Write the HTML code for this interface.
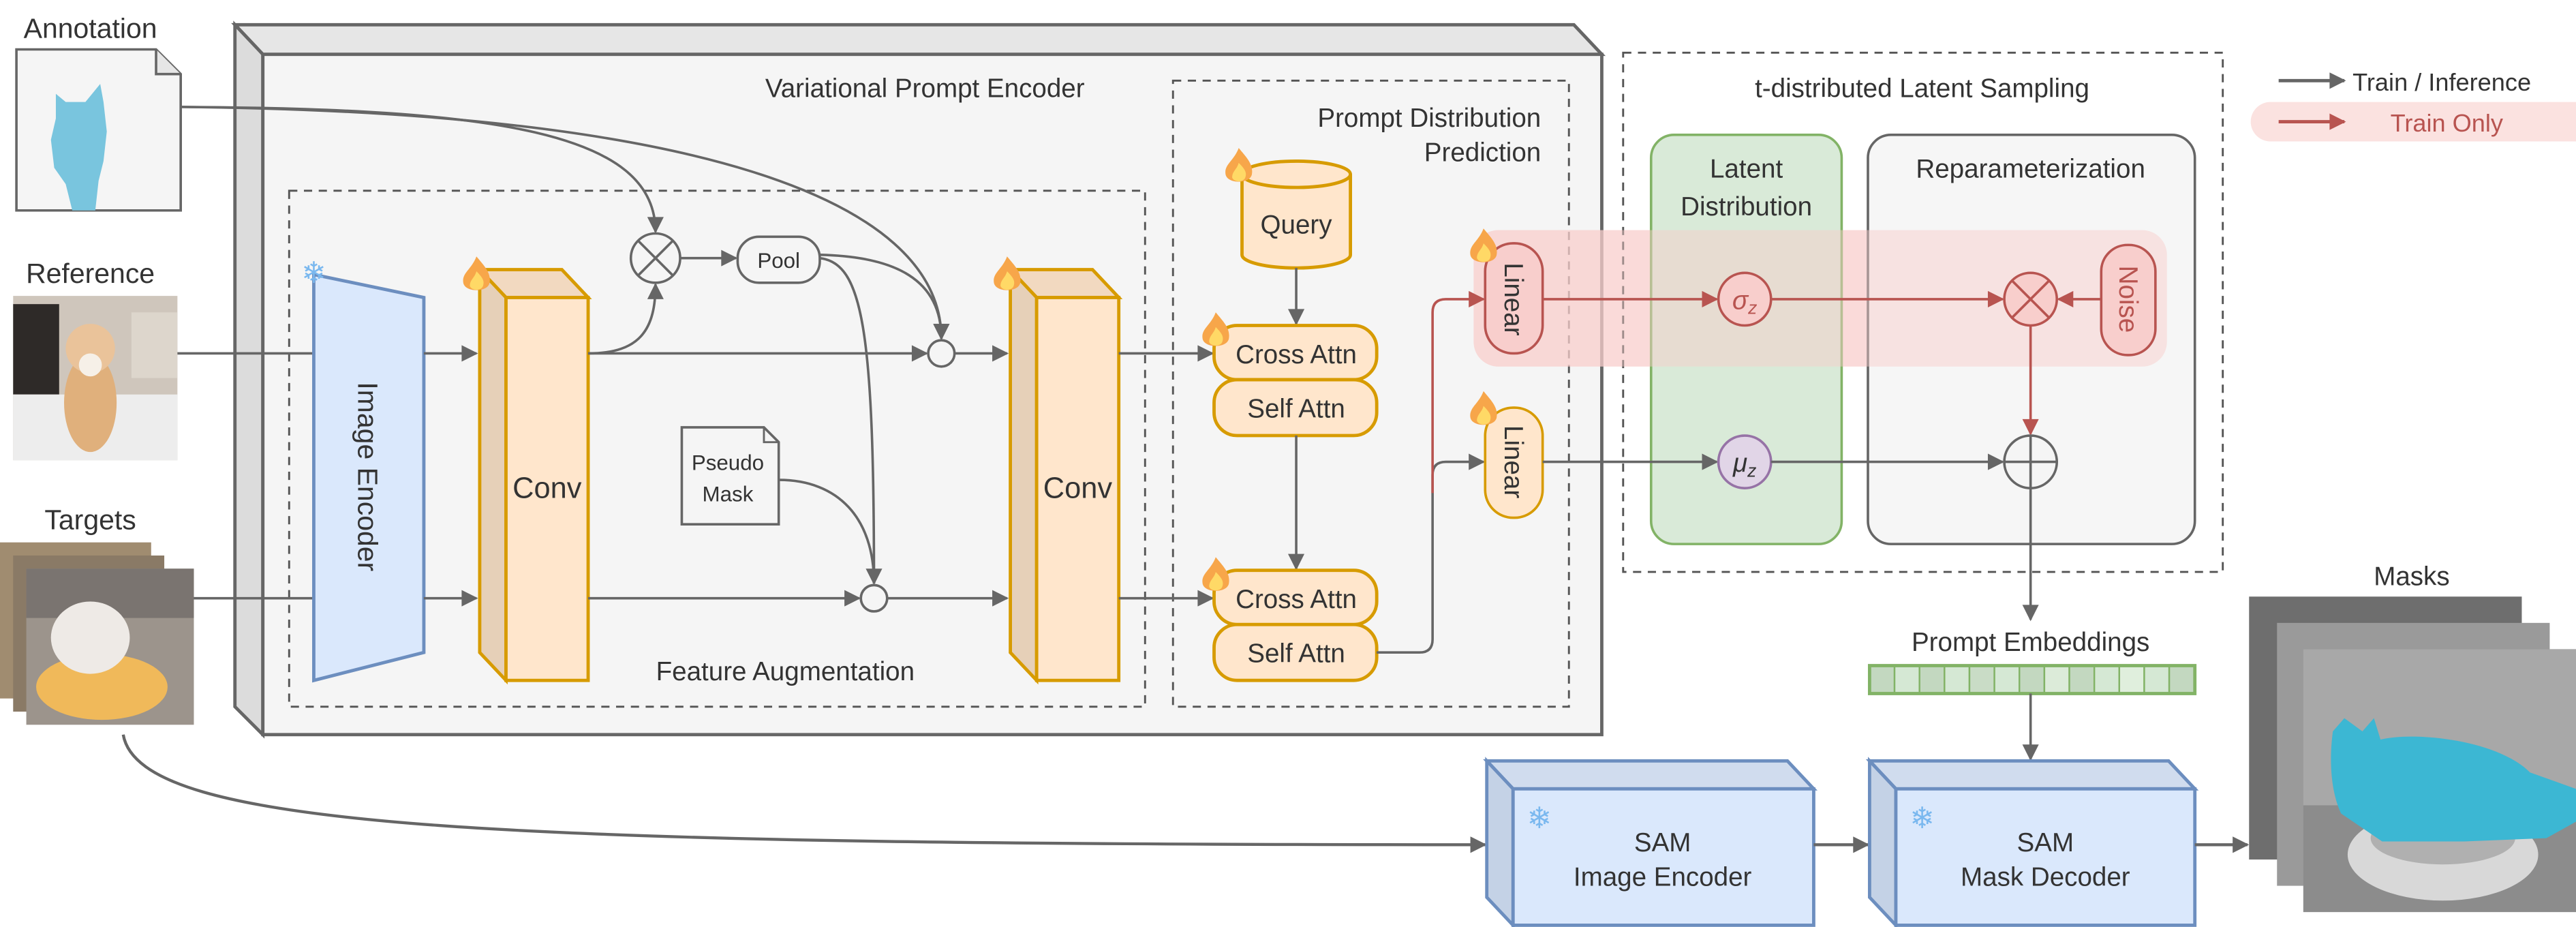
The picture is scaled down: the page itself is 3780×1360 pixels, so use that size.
<!DOCTYPE html>
<html><head><meta charset="utf-8"><style>
html,body{margin:0;padding:0;background:#fff;}
svg{display:block;}
text{font-family:"Liberation Sans",Arial,sans-serif;fill:#333;}
</style></head><body>
<svg width="3780" height="1360" viewBox="0 0 1568 564" xmlns="http://www.w3.org/2000/svg">
<defs>
<marker id="agb" viewBox="0 0 10 10" refX="9" refY="5" markerWidth="11" markerHeight="10" orient="auto" markerUnits="userSpaceOnUse"><path d="M0,0 L10,5 L0,10 Z" fill="#666"/></marker>
<marker id="ar" viewBox="0 0 10 10" refX="9" refY="5" markerWidth="11" markerHeight="10" orient="auto" markerUnits="userSpaceOnUse"><path d="M0,0 L10,5 L0,10 Z" fill="#b85450"/></marker>
<g id="flame"><path d="M0,-14 C5,-8 9,-4 8,2 C7,8 -7,8 -8,2 C-9,-4 -3,-6 0,-14 Z" fill="#f7a64a"/><path d="M0,-5 C4,-1 5,1 4,4 C3,7 -3,7 -4,4 C-4,0 -1,-1 0,-5 Z" fill="#ffd966"/></g>
</defs>

<text x="55" y="23" font-size="17" text-anchor="middle">Annotation</text>
<path d="M10,30 L95,30 L110,45 L110,128 L10,128 Z" fill="#f5f5f5" stroke="#666" stroke-width="1.5"/>
<path d="M95,30 L95,45 L110,45" fill="#e6e6e6" stroke="#666" stroke-width="1.5"/>
<path d="M34,57 L40,62 L52,62 L61,51 L63,62 L65,80 L63,98 L60,110 L58,128 L44,128 L40,112 L33,102 L31,85 L34,72 Z" fill="#79c5de"/>

<text x="55" y="172" font-size="17" text-anchor="middle">Reference</text>
<rect x="8" y="180" width="100" height="100" fill="#cfc6bc"/>
<rect x="8" y="185" width="28" height="55" fill="#2e2a28"/>
<rect x="80" y="190" width="28" height="40" fill="#ddd6cc"/>
<rect x="8" y="240" width="100" height="40" fill="#ededed"/>
<ellipse cx="55" cy="245" rx="16" ry="30" fill="#e0b07c"/>
<circle cx="55" cy="212" r="15" fill="#eac39a"/>
<circle cx="55" cy="222" r="7" fill="#f6f0e8"/>

<text x="55" y="322" font-size="17" text-anchor="middle">Targets</text>
<rect x="0" y="330" width="92" height="95" fill="#a08c70"/>
<rect x="8" y="338" width="92" height="95" fill="#8a7a66"/>
<rect x="16" y="346" width="102" height="95" fill="#9c948c"/>
<rect x="16" y="346" width="102" height="30" fill="#7a7470"/>
<ellipse cx="62" cy="418" rx="40" ry="20" fill="#f0b95a"/>
<ellipse cx="55" cy="388" rx="24" ry="22" fill="#eeeae6"/>

<path d="M143,15 L958,15 L975,33 L160,33 Z" fill="#e6e6e6" stroke="#666" stroke-width="2"/>
<path d="M143,15 L160,33 L160,447 L143,430 Z" fill="#dcdcdc" stroke="#666" stroke-width="2"/>
<rect x="160" y="33" width="815" height="414" fill="#f5f5f5" stroke="#666" stroke-width="2"/>
<text x="563" y="59" font-size="16" text-anchor="middle">Variational Prompt Encoder</text>

<rect x="176" y="116" width="521" height="314" fill="none" stroke="#555" stroke-width="1.2" stroke-dasharray="5,4"/>
<text x="478" y="414" font-size="16" text-anchor="middle">Feature Augmentation</text>
<rect x="714" y="49" width="241" height="381" fill="none" stroke="#555" stroke-width="1.2" stroke-dasharray="5,4"/>
<text x="938" y="77" font-size="16" text-anchor="end">Prompt Distribution</text>
<text x="938" y="98" font-size="16" text-anchor="end">Prediction</text>

<line x1="108" y1="215" x2="191" y2="215" stroke="#666" stroke-width="1.5"/>
<line x1="118" y1="364" x2="191" y2="364" stroke="#666" stroke-width="1.5"/>
<path d="M110,65 C300,66 399,80 399,141" fill="none" stroke="#666" stroke-width="1.5" marker-end="url(#agb)"/>
<path d="M110,65 C420,68 573,120 573,206" fill="none" stroke="#666" stroke-width="1.5" marker-end="url(#agb)"/>

<path d="M191,167 L258,181 L258,397 L191,414 Z" fill="#dae8fc" stroke="#6c8ebf" stroke-width="2"/>
<text x="0" y="0" font-size="17" text-anchor="middle" transform="translate(218,290) rotate(90)">Image Encoder</text>
<text x="191" y="172" font-size="18" text-anchor="middle" style="fill:#7ab8ef">❄</text>

<line x1="258" y1="215" x2="290" y2="215" stroke="#666" stroke-width="1.5" marker-end="url(#agb)"/>
<line x1="258" y1="364" x2="290" y2="364" stroke="#666" stroke-width="1.5" marker-end="url(#agb)"/>

<path d="M292,164 L342,164 L358,181 L308,181 Z" fill="#f2d9c0" stroke="#d79b00" stroke-width="2"/>
<path d="M292,164 L308,181 L308,414 L292,397 Z" fill="#e6d0b8" stroke="#d79b00" stroke-width="2"/>
<rect x="308" y="181" width="50" height="233" fill="#ffe6cc" stroke="#d79b00" stroke-width="2"/>
<text x="333" y="303" font-size="18" text-anchor="middle">Conv</text>
<use href="#flame" x="290" y="170"/>
<path d="M615,164 L665,164 L681,181 L631,181 Z" fill="#f2d9c0" stroke="#d79b00" stroke-width="2"/>
<path d="M615,164 L631,181 L631,414 L615,397 Z" fill="#e6d0b8" stroke="#d79b00" stroke-width="2"/>
<rect x="631" y="181" width="50" height="233" fill="#ffe6cc" stroke="#d79b00" stroke-width="2"/>
<text x="656" y="303" font-size="18" text-anchor="middle">Conv</text>
<use href="#flame" x="613" y="170"/>

<line x1="358" y1="215" x2="564" y2="215" stroke="#666" stroke-width="1.5" marker-end="url(#agb)"/>
<path d="M358,215 C390,215 399,200 399,173" fill="none" stroke="#666" stroke-width="1.5" marker-end="url(#agb)"/>
<circle cx="399" cy="157" r="15" fill="#f5f5f5" stroke="#666" stroke-width="1.5"/>
<path d="M388,146 L410,168 M410,146 L388,168" stroke="#666" stroke-width="1.5"/>
<line x1="414" y1="157" x2="448" y2="157" stroke="#666" stroke-width="1.5" marker-end="url(#agb)"/>
<rect x="449" y="144" width="50" height="28" rx="13" fill="#f5f5f5" stroke="#666" stroke-width="1.5"/>
<text x="474" y="163" font-size="13" text-anchor="middle">Pool</text>
<path d="M499,155 C545,156 573,170 573,206" fill="none" stroke="#666" stroke-width="1.5" marker-end="url(#agb)"/>
<path d="M499,157 C525,160 532,200 532,355" fill="none" stroke="#666" stroke-width="1.5" marker-end="url(#agb)"/>
<circle cx="573" cy="215" r="8" fill="#f5f5f5" stroke="#666" stroke-width="1.5"/>
<line x1="581" y1="215" x2="613" y2="215" stroke="#666" stroke-width="1.5" marker-end="url(#agb)"/>

<path d="M415,260 L465,260 L474,269 L474,319 L415,319 Z" fill="#f5f5f5" stroke="#666" stroke-width="1.5"/>
<path d="M465,260 L465,269 L474,269" fill="none" stroke="#666" stroke-width="1.2"/>
<text x="443" y="286" font-size="13" text-anchor="middle">Pseudo</text>
<text x="443" y="305" font-size="13" text-anchor="middle">Mask</text>
<path d="M474,292 C510,292 532,315 532,355" fill="none" stroke="#666" stroke-width="1.5"/>
<line x1="358" y1="364" x2="523" y2="364" stroke="#666" stroke-width="1.5" marker-end="url(#agb)"/>
<circle cx="532" cy="364" r="8" fill="#f5f5f5" stroke="#666" stroke-width="1.5"/>
<line x1="540" y1="364" x2="613" y2="364" stroke="#666" stroke-width="1.5" marker-end="url(#agb)"/>

<line x1="681" y1="215" x2="738" y2="215" stroke="#666" stroke-width="1.5" marker-end="url(#agb)"/>
<line x1="681" y1="364" x2="738" y2="364" stroke="#666" stroke-width="1.5" marker-end="url(#agb)"/>
<path d="M756,106 L756,155 A33,8 0 0 0 822,155 L822,106" fill="#ffe6cc" stroke="#d79b00" stroke-width="2"/>
<ellipse cx="789" cy="106" rx="33" ry="8" fill="#ffe6cc" stroke="#d79b00" stroke-width="2"/>
<text x="789" y="142" font-size="16" text-anchor="middle">Query</text>
<use href="#flame" x="754" y="104"/>
<line x1="789" y1="163" x2="789" y2="197" stroke="#666" stroke-width="1.5" marker-end="url(#agb)"/>
<rect x="739" y="198" width="99" height="33" rx="14" fill="#ffe6cc" stroke="#d79b00" stroke-width="2"/>
<text x="789" y="221" font-size="16" text-anchor="middle">Cross Attn</text>
<rect x="739" y="231" width="99" height="34" rx="14" fill="#ffe6cc" stroke="#d79b00" stroke-width="2"/>
<text x="789" y="254" font-size="16" text-anchor="middle">Self Attn</text>
<use href="#flame" x="740" y="204"/>
<line x1="789" y1="265" x2="789" y2="346" stroke="#666" stroke-width="1.5" marker-end="url(#agb)"/>
<rect x="739" y="347" width="99" height="33" rx="14" fill="#ffe6cc" stroke="#d79b00" stroke-width="2"/>
<text x="789" y="370" font-size="16" text-anchor="middle">Cross Attn</text>
<rect x="739" y="380" width="99" height="34" rx="14" fill="#ffe6cc" stroke="#d79b00" stroke-width="2"/>
<text x="789" y="403" font-size="16" text-anchor="middle">Self Attn</text>
<use href="#flame" x="740" y="353"/>

<rect x="897" y="140" width="422" height="83" rx="15" fill="#f8cecc" fill-opacity="0.55"/>

<rect x="988" y="32" width="365" height="316" fill="none" stroke="#555" stroke-width="1.2" stroke-dasharray="5,4"/>
<text x="1170" y="59" font-size="16" text-anchor="middle">t-distributed Latent Sampling</text>
<rect x="1005" y="82" width="116" height="249" rx="14" fill="#d5e8d4" fill-opacity="0.9" stroke="#82b366" stroke-width="1.5"/>
<text x="1063" y="108" font-size="16" text-anchor="middle">Latent</text>
<text x="1063" y="131" font-size="16" text-anchor="middle">Distribution</text>
<rect x="1137" y="82" width="199" height="249" rx="14" fill="#f5f5f5" fill-opacity="0.85" stroke="#666" stroke-width="1.5"/>
<text x="1236" y="108" font-size="16" text-anchor="middle">Reparameterization</text>
<rect x="897" y="140" width="422" height="83" rx="15" fill="#f8cecc" fill-opacity="0.45"/>

<path d="M838,397 L864,397 Q872,397 872,389 L872,289 Q872,281 880,281 L903,281" fill="none" stroke="#666" stroke-width="1.5" marker-end="url(#agb)"/>
<path d="M872,300 L872,190 Q872,182 880,182 L903,182" fill="none" stroke="#b85450" stroke-width="1.5" marker-end="url(#ar)"/>

<rect x="904" y="148" width="35" height="67" rx="17" fill="#f8cecc" stroke="#b85450" stroke-width="1.5"/>
<text x="0" y="0" font-size="16" text-anchor="middle" transform="translate(916,182) rotate(90)">Linear</text>
<use href="#flame" x="903" y="153"/>
<rect x="904" y="248" width="35" height="67" rx="17" fill="#ffe6cc" stroke="#d79b00" stroke-width="1.5"/>
<text x="0" y="0" font-size="16" text-anchor="middle" transform="translate(916,281) rotate(90)">Linear</text>
<use href="#flame" x="903" y="252"/>

<line x1="939" y1="182" x2="1045" y2="182" stroke="#b85450" stroke-width="1.5" marker-end="url(#ar)"/>
<circle cx="1062" cy="182" r="16" fill="#f8cecc" stroke="#b85450" stroke-width="1.5"/>
<text x="1062" y="188" font-size="16" text-anchor="middle" font-style="italic" font-family="Liberation Serif" style="fill:#b85450">σ<tspan font-size="11" dy="3">z</tspan></text>
<line x1="1078" y1="182" x2="1219" y2="182" stroke="#b85450" stroke-width="1.5" marker-end="url(#ar)"/>
<circle cx="1236" cy="182" r="16" fill="#f8cecc" stroke="#b85450" stroke-width="1.5"/>
<path d="M1225,171 L1247,193 M1247,171 L1225,193" stroke="#b85450" stroke-width="1.5"/>
<rect x="1279" y="149" width="33" height="67" rx="16" fill="#f8cecc" stroke="#b85450" stroke-width="1.5"/>
<text x="0" y="0" font-size="16" text-anchor="middle" style="fill:#b85450" transform="translate(1290,182) rotate(90)">Noise</text>
<line x1="1279" y1="182" x2="1253" y2="182" stroke="#b85450" stroke-width="1.5" marker-end="url(#ar)"/>
<line x1="1236" y1="198" x2="1236" y2="264" stroke="#b85450" stroke-width="1.5" marker-end="url(#ar)"/>

<line x1="939" y1="281" x2="1045" y2="281" stroke="#666" stroke-width="1.5" marker-end="url(#agb)"/>
<circle cx="1062" cy="281" r="16" fill="#e1d5e7" stroke="#9673a6" stroke-width="1.5"/>
<text x="1062" y="287" font-size="16" text-anchor="middle" font-style="italic" font-family="Liberation Serif">μ<tspan font-size="11" dy="3">z</tspan></text>
<line x1="1078" y1="281" x2="1219" y2="281" stroke="#666" stroke-width="1.5" marker-end="url(#agb)"/>
<circle cx="1236" cy="281" r="16" fill="#f5f5f5" stroke="#666" stroke-width="1.5"/>
<path d="M1220,281 L1252,281 M1236,265 L1236,297" stroke="#666" stroke-width="1.5"/>
<line x1="1236" y1="297" x2="1236" y2="377" stroke="#666" stroke-width="1.5" marker-end="url(#agb)"/>

<line x1="1387" y1="49" x2="1427" y2="49" stroke="#666" stroke-width="2" marker-end="url(#agb)"/>
<text x="1432" y="55" font-size="15">Train / Inference</text>
<rect x="1370" y="62" width="210" height="24" rx="12" fill="#f8cecc" fill-opacity="0.6"/>
<line x1="1387" y1="74" x2="1427" y2="74" stroke="#b85450" stroke-width="2" marker-end="url(#ar)"/>
<text x="1455" y="80" font-size="15" style="fill:#b85450">Train Only</text>

<text x="1236" y="396" font-size="16" text-anchor="middle">Prompt Embeddings</text>
<g stroke="#82b366" stroke-width="1">
<rect x="1138" y="405" width="15.2" height="17" fill="#c3d8c0"/>
<rect x="1153.2" y="405" width="15.2" height="17" fill="#d5e8d4"/>
<rect x="1168.4" y="405" width="15.2" height="17" fill="#c3d8c0"/>
<rect x="1183.6" y="405" width="15.2" height="17" fill="#d5e8d4"/>
<rect x="1198.8" y="405" width="15.2" height="17" fill="#c9dcc6"/>
<rect x="1214" y="405" width="15.2" height="17" fill="#d5e8d4"/>
<rect x="1229.2" y="405" width="15.2" height="17" fill="#c3d8c0"/>
<rect x="1244.4" y="405" width="15.2" height="17" fill="#dcebd9"/>
<rect x="1259.6" y="405" width="15.2" height="17" fill="#c3d8c0"/>
<rect x="1274.8" y="405" width="15.2" height="17" fill="#d5e8d4"/>
<rect x="1290" y="405" width="15.2" height="17" fill="#e0efdd"/>
<rect x="1305.2" y="405" width="15.2" height="17" fill="#d5e8d4"/>
<rect x="1320.4" y="405" width="15.6" height="17" fill="#c3d8c0"/>
</g>
<rect x="1138" y="405" width="198" height="17" fill="none" stroke="#82b366" stroke-width="2"/>
<line x1="1236" y1="422" x2="1236" y2="462" stroke="#666" stroke-width="1.5" marker-end="url(#agb)"/>

<path d="M75,447 C85,505 300,514 904,514" fill="none" stroke="#666" stroke-width="1.8" marker-end="url(#agb)"/>

<path d="M905,463 L1088,463 L1104,480 L921,480 Z" fill="#d0dcee" stroke="#6c8ebf" stroke-width="2"/>
<path d="M905,463 L921,480 L921,563 L905,546 Z" fill="#c4d2e6" stroke="#6c8ebf" stroke-width="2"/>
<rect x="921" y="480" width="183" height="83" fill="#dae8fc" stroke="#6c8ebf" stroke-width="2"/>
<text x="937" y="504" font-size="18" text-anchor="middle" style="fill:#7ab8ef">❄</text>
<text x="1012" y="518" font-size="16" text-anchor="middle">SAM</text>
<text x="1012" y="539" font-size="16" text-anchor="middle">Image Encoder</text>
<line x1="1104" y1="514" x2="1137" y2="514" stroke="#666" stroke-width="1.8" marker-end="url(#agb)"/>
<path d="M1138,463 L1320,463 L1336,480 L1154,480 Z" fill="#d0dcee" stroke="#6c8ebf" stroke-width="2"/>
<path d="M1138,463 L1154,480 L1154,563 L1138,546 Z" fill="#c4d2e6" stroke="#6c8ebf" stroke-width="2"/>
<rect x="1154" y="480" width="182" height="83" fill="#dae8fc" stroke="#6c8ebf" stroke-width="2"/>
<text x="1170" y="504" font-size="18" text-anchor="middle" style="fill:#7ab8ef">❄</text>
<text x="1245" y="518" font-size="16" text-anchor="middle">SAM</text>
<text x="1245" y="539" font-size="16" text-anchor="middle">Mask Decoder</text>
<line x1="1336" y1="514" x2="1368" y2="514" stroke="#666" stroke-width="1.8" marker-end="url(#agb)"/>

<text x="1468" y="356" font-size="16" text-anchor="middle">Masks</text>
<rect x="1369" y="363" width="166" height="160" fill="#6e6e6e"/>
<rect x="1386" y="379" width="166" height="160" fill="#9a9a9a"/>
<rect x="1402" y="395" width="166" height="160" fill="#8c8c8c"/>
<rect x="1402" y="395" width="166" height="95" fill="#a8a8a8"/>
<ellipse cx="1487" cy="520" rx="58" ry="28" fill="#d8d8d8"/>
<ellipse cx="1487" cy="510" rx="44" ry="16" fill="#b0b0b0"/>
<path d="M1420,445 L1427,437 L1438,445 L1445,437 L1449,450 C1470,445 1520,450 1540,470 L1568,480 L1568,500 L1550,510 L1500,512 L1450,512 L1425,495 C1418,480 1418,460 1420,445 Z" fill="#3cb7d3"/>
</svg>
</body></html>
